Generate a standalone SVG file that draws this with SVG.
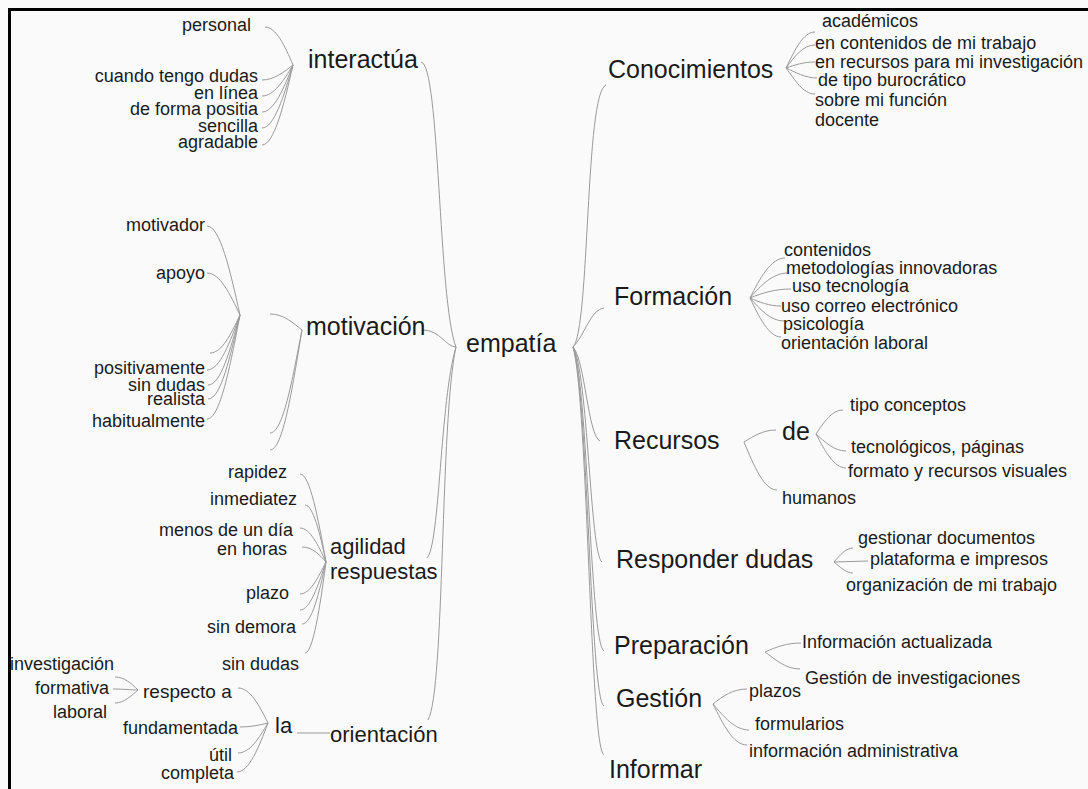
<svg xmlns="http://www.w3.org/2000/svg" width="1088" height="789" viewBox="0 0 1088 789">
<style>
text{font-family:"Liberation Sans",Arial,sans-serif;fill:#1a1a1a}
.m{font-size:25px}
.s{font-size:18px}
.e{text-anchor:end}
.c path{fill:none;stroke:#9a9a9a;stroke-width:1}
</style>
<rect x="0" y="0" width="1088" height="789" fill="#fafafa"/>
<path d="M8,9.5H1088M9.5,8V789" stroke="#000" stroke-width="3" fill="none"/>
<g class="c" id="connectors">
<path d="M293,65C285,46 276,27 265,27"/>
<path d="M293,65C284,72 274,80 262,80"/>
<path d="M293,65C284,80 274,96 262,96"/>
<path d="M293,65C284,88 274,112 262,112"/>
<path d="M293,65C284,96 274,128 262,128"/>
<path d="M293,65C284,105 274,145 262,145"/>
<path d="M240,315C230,270 220,226 207,226"/>
<path d="M240,315C230,294 220,273 207,273"/>
<path d="M240,315C231,334 222,353 210,353"/>
<path d="M240,315C230,342 220,370 207,370"/>
<path d="M240,315C230,350 221,385 208,385"/>
<path d="M240,315C230,357 221,399 208,399"/>
<path d="M240,315C230,367 220,419 207,419"/>
<path d="M302,330C292,322 283,314 270,314"/>
<path d="M302,330C292,381 283,433 270,433"/>
<path d="M302,330C292,390 283,450 270,450"/>
<path d="M326,562C318,518 310,474 300,474"/>
<path d="M326,562C320,533 313,505 305,505"/>
<path d="M326,562C318,545 310,528 300,528"/>
<path d="M326,562C319,554 312,547 302,547"/>
<path d="M326,562C318,578 310,594 300,594"/>
<path d="M326,562C318,586 310,610 300,610"/>
<path d="M326,562C319,593 312,624 302,624"/>
<path d="M326,562C320,607 313,653 305,653"/>
<path d="M268,723C259,705 250,688 238,688"/>
<path d="M268,723C260,725 251,727 240,727"/>
<path d="M268,723C259,738 250,753 238,753"/>
<path d="M268,723C259,747 249,772 237,772"/>
<path d="M297,733L330,733"/>
<path d="M138,690C131,683 124,677 115,677"/>
<path d="M138,690C131,690 124,689 113,689"/>
<path d="M138,690C131,696 124,703 115,703"/>
<path d="M421,62C440,64 438,300 456,347"/>
<path d="M423,330C440,330 446,347 456,347"/>
<path d="M427,558C440,545 440,400 456,347"/>
<path d="M428,720C445,690 440,420 456,347"/>
<path d="M573,347C590,330 585,92 606,85"/>
<path d="M573,347C585,335 590,310 604,308"/>
<path d="M573,347C585,360 588,436 600,441"/>
<path d="M573,347C588,370 590,555 602,562"/>
<path d="M573,347C588,380 590,645 604,651"/>
<path d="M573,347C588,390 590,700 604,706"/>
<path d="M573,347C588,400 590,750 604,755"/>
<path d="M786,68C795,50 803,32 815,32"/>
<path d="M786,68C795,56 803,45 815,45"/>
<path d="M786,68C795,65 803,62 815,62"/>
<path d="M786,68C795,72 805,78 817,78"/>
<path d="M786,68C795,80 803,94 815,94"/>
<path d="M750,298C760,278 771,258 785,258"/>
<path d="M750,298C761,285 773,273 788,273"/>
<path d="M750,298C762,293 775,289 791,289"/>
<path d="M750,298C759,302 769,306 781,306"/>
<path d="M750,298C760,309 770,321 784,321"/>
<path d="M750,298C759,317 769,337 781,337"/>
<path d="M744,442C754,436 763,430 776,430"/>
<path d="M744,442C754,466 764,490 777,490"/>
<path d="M816,434C824,422 832,410 843,410"/>
<path d="M816,434C825,442 834,451 846,451"/>
<path d="M816,434C825,451 834,468 846,468"/>
<path d="M834,562C840,555 846,548 853,548"/>
<path d="M834,562L868,561"/>
<path d="M834,562C840,567 846,573 853,573"/>
<path d="M765,652C776,647 787,643 801,643"/>
<path d="M765,652C776,660 786,669 800,669"/>
<path d="M713,704C723,696 733,689 747,689"/>
<path d="M713,704C724,717 735,730 749,730"/>
<path d="M713,704C723,724 733,745 747,745"/>
</g>
<g id="empatia"><text class="m" x="466" y="352">empatía</text></g>
<g id="interactua"><text class="m" x="308" y="68">interactúa</text></g>
<g id="interactua-leaves">
<text class="s e" x="251" y="31">personal</text>
<text class="s e" x="258" y="82">cuando tengo dudas</text>
<text class="s e" x="258" y="99">en línea</text>
<text class="s e" x="258" y="115">de forma positia</text>
<text class="s e" x="258" y="132">sencilla</text>
<text class="s e" x="258" y="148">agradable</text>
</g>
<g id="motivacion"><text class="m" x="306" y="335">motivación</text></g>
<g id="motivacion-leaves">
<text class="s e" x="205" y="231">motivador</text>
<text class="s e" x="205" y="279">apoyo</text>
<text class="s e" x="205" y="374">positivamente</text>
<text class="s e" x="205" y="391">sin dudas</text>
<text class="s e" x="205" y="405">realista</text>
<text class="s e" x="205" y="427">habitualmente</text>
</g>
<g id="agilidad"><text x="330" y="554" style="font-size:22px">agilidad</text><text x="330" y="579" style="font-size:22px">respuestas</text></g>
<g id="agilidad-leaves">
<text class="s e" x="287" y="478">rapidez</text>
<text class="s e" x="297" y="505">inmediatez</text>
<text class="s e" x="293" y="536">menos de un día</text>
<text class="s e" x="287" y="555">en horas</text>
<text class="s e" x="289" y="599">plazo</text>
<text class="s e" x="296" y="633">sin demora</text>
<text class="s e" x="299" y="670">sin dudas</text>
</g>
<g id="orientacion"><text x="330" y="742" style="font-size:22px">orientación</text></g>
<g id="la"><text x="275" y="733" style="font-size:22px">la</text></g>
<g id="respecto"><text x="143" y="698" style="font-size:19px">respecto a</text></g>
<g id="orientacion-leaves">
<text class="s e" x="114" y="670">investigación</text>
<text class="s e" x="109" y="694">formativa</text>
<text class="s e" x="107" y="718">laboral</text>
<text class="s e" x="238" y="734">fundamentada</text>
<text class="s e" x="232" y="761">útil</text>
<text class="s e" x="234" y="779">completa</text>
</g>
<g id="conocimientos"><text class="m" x="608" y="78">Conocimientos</text></g>
<g id="conocimientos-leaves">
<text class="s" x="822" y="27">académicos</text>
<text class="s" x="815" y="49">en contenidos de mi trabajo</text>
<text class="s" x="815" y="68">en recursos para mi investigación</text>
<text class="s" x="818" y="86">de tipo burocrático</text>
<text class="s" x="815" y="106">sobre mi función</text>
<text class="s" x="815" y="126">docente</text>
</g>
<g id="formacion"><text class="m" x="614" y="305">Formación</text></g>
<g id="formacion-leaves">
<text class="s" x="784" y="256">contenidos</text>
<text class="s" x="786" y="274">metodologías innovadoras</text>
<text class="s" x="792" y="292">uso tecnología</text>
<text class="s" x="781" y="312">uso correo electrónico</text>
<text class="s" x="783" y="330">psicología</text>
<text class="s" x="781" y="349">orientación laboral</text>
</g>
<g id="recursos"><text class="m" x="614" y="449">Recursos</text></g>
<g id="de"><text class="m" x="782" y="440">de</text></g>
<g id="recursos-leaves">
<text class="s" x="782" y="504">humanos</text>
<text class="s" x="850" y="411">tipo conceptos</text>
<text class="s" x="851" y="453">tecnológicos, páginas</text>
<text class="s" x="848" y="477">formato y recursos visuales</text>
</g>
<g id="responder"><text class="m" x="616" y="568">Responder dudas</text></g>
<g id="responder-leaves">
<text class="s" x="858" y="544">gestionar documentos</text>
<text class="s" x="870" y="565">plataforma e impresos</text>
<text class="s" x="846" y="591">organización de mi trabajo</text>
</g>
<g id="preparacion"><text class="m" x="614" y="654">Preparación</text></g>
<g id="preparacion-leaves">
<text class="s" x="802" y="648">Información actualizada</text>
<text class="s" x="805" y="684">Gestión de investigaciones</text>
</g>
<g id="gestion"><text class="m" x="616" y="707">Gestión</text></g>
<g id="gestion-leaves">
<text class="s" x="749" y="697">plazos</text>
<text class="s" x="755" y="730">formularios</text>
<text class="s" x="749" y="757">información administrativa</text>
</g>
<g id="informar"><text class="m" x="609" y="778">Informar</text></g>
</svg>
